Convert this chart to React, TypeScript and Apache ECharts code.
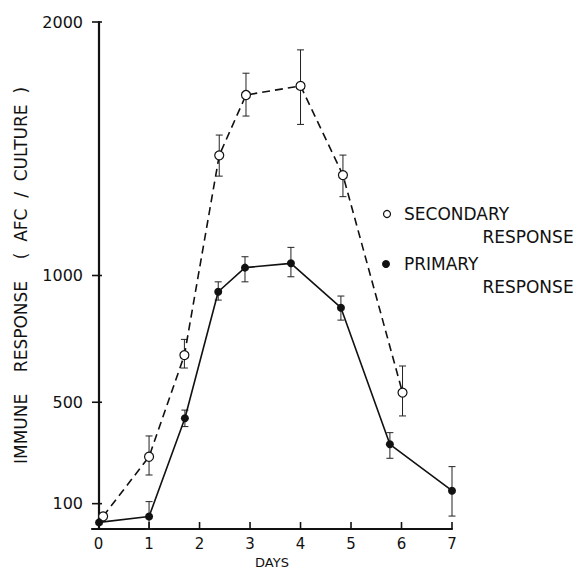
import React, { useEffect, useRef } from "react";
import * as echarts from "echarts";

const dayTicks = [0, 1, 2, 3, 4, 5, 6, 7];
const dayTickMarks = [1, 2, 3, 4, 5, 6, 7];
const responseTicks = [100, 500, 1000, 2000];

const secondaryDays = [0.09, 1.0, 1.7, 2.39, 2.92, 4.0, 4.84, 6.02];
const secondaryMean = [50, 285, 686, 1474, 1712, 1748, 1396, 538];
const secondaryHigh = [50, 367, 748, 1554, 1798, 1890, 1475, 643];
const secondaryLow = [50, 213, 635, 1392, 1629, 1596, 1311, 446];

const primaryDays = [0.01, 1.0, 1.71, 2.37, 2.9, 3.81, 4.8, 5.77, 7.0];
const primaryMean = [26, 49, 437, 936, 1031, 1048, 873, 334, 151];
const primaryHigh = [26, 108, 469, 975, 1074, 1111, 919, 380, 246];
const primaryLow = [26, 0, 404, 903, 975, 995, 824, 279, 51];

const INK = "#111";
const FONT = "DejaVu Sans";
const X_MIN = -0.13;

function errorBars(days: number[], low: number[], high: number[]) {
  return days.map((d, i) => [d, low[i], high[i]]);
}

export default function App() {
  const ref = useRef<HTMLDivElement>(null);
  useEffect(() => {
    if (!ref.current) return;
    const chart = echarts.init(ref.current, null, { renderer: "svg" });
    const renderErr = (params: any, api: any) => {
      const x = api.value(0);
      const lo = api.value(1);
      const hi = api.value(2);
      if (hi - lo < 1) return { type: "group", children: [] };
      const pLo = api.coord([x, lo]);
      const pHi = api.coord([x, hi]);
      const w = 3.5;
      const style = { stroke: "#222", lineWidth: 1 };
      return {
        type: "group",
        children: [
          { type: "line", shape: { x1: pLo[0], y1: pLo[1], x2: pHi[0], y2: pHi[1] }, style },
          { type: "line", shape: { x1: pHi[0] - w, y1: pHi[1], x2: pHi[0] + w, y2: pHi[1] }, style },
          { type: "line", shape: { x1: pLo[0] - w, y1: pLo[1], x2: pLo[0] + w, y2: pLo[1] }, style },
        ],
      };
    };
    const tickData = [
      ...dayTickMarks.map((d) => [0, d, 0]),
      ...responseTicks.map((v) => [1, X_MIN, v]),
    ];
    const renderTick = (params: any, api: any) => {
      const kind = api.value(0);
      const p = api.coord([api.value(1), api.value(2)]);
      const style = { stroke: INK, lineWidth: 1.6 };
      if (kind === 0) {
        return { type: "line", shape: { x1: p[0], y1: p[1], x2: p[0], y2: p[1] - 7 }, style };
      }
      return { type: "line", shape: { x1: p[0], y1: p[1], x2: p[0] + 10, y2: p[1] }, style };
    };
    chart.setOption({
      animation: false,
      backgroundColor: "#fff",
      grid: { left: 92, right: 125, top: 22, bottom: 40, outerBoundsMode: "none", containLabel: false },
      xAxis: {
        type: "value",
        min: X_MIN,
        max: 7,
        name: "DAYS",
        nameLocation: "middle",
        nameGap: 18,
        nameTextStyle: { color: INK, fontFamily: FONT, fontSize: 13 },
        axisLine: { show: true, lineStyle: { color: INK, width: 2.2 } },
        axisTick: { show: false },
        axisLabel: { customValues: dayTicks, color: INK, fontFamily: FONT, fontSize: 15, margin: 7, formatter: (v: number) => String(v) },
        splitLine: { show: false },
      },
      yAxis: {
        type: "value",
        min: 0,
        max: 2000,
        name: "IMMUNE    RESPONSE    (  AFC  /  CULTURE  )",
        nameLocation: "middle",
        nameGap: 63,
        nameRotate: 90,
        nameTextStyle: { color: INK, fontFamily: FONT, fontSize: 17 },
        axisLine: { show: true, lineStyle: { color: INK, width: 2.2 } },
        axisTick: { show: false },
        axisLabel: { customValues: responseTicks, color: INK, fontFamily: FONT, fontSize: 16, margin: 9, formatter: (v: number) => String(v) },
        splitLine: { show: false },
      },
      series: [
        {
          type: "custom",
          name: "ticks",
          renderItem: renderTick,
          data: tickData,
          clip: false,
          silent: true,
          z: 5,
        },
        {
          type: "custom",
          name: "secErr",
          renderItem: renderErr,
          data: errorBars(secondaryDays, secondaryLow, secondaryHigh),
          z: 1,
        },
        {
          type: "custom",
          name: "priErr",
          renderItem: renderErr,
          data: errorBars(primaryDays, primaryLow, primaryHigh),
          z: 1,
        },
        {
          type: "line",
          name: "SECONDARY RESPONSE",
          data: secondaryDays.map((d, i) => [d, secondaryMean[i]]),
          symbol: "circle",
          symbolSize: 9,
          showAllSymbol: true,
          lineStyle: { color: INK, width: 1.6, type: [8, 5] },
          itemStyle: { color: "#fff", borderColor: INK, borderWidth: 1.2 },
          z: 3,
        },
        {
          type: "line",
          name: "PRIMARY RESPONSE",
          data: primaryDays.map((d, i) => [d, primaryMean[i]]),
          symbol: "circle",
          symbolSize: 8,
          showAllSymbol: true,
          lineStyle: { color: INK, width: 1.6 },
          itemStyle: { color: INK, borderColor: INK, borderWidth: 0 },
          z: 3,
        },
      ],
      graphic: [
        { type: "circle", shape: { cx: 387, cy: 214, r: 3.5 }, style: { fill: "#fff", stroke: INK, lineWidth: 1.2 } },
        { type: "text", x: 404, y: 214, style: { text: "SECONDARY", fill: INK, font: `17px "${FONT}"`, align: "left", verticalAlign: "middle" } },
        { type: "text", x: 528, y: 237, style: { text: "RESPONSE", fill: INK, font: `17px "${FONT}"`, align: "center", verticalAlign: "middle" } },
        { type: "circle", shape: { cx: 386, cy: 264, r: 4 }, style: { fill: INK, stroke: INK, lineWidth: 0 } },
        { type: "text", x: 404, y: 264, style: { text: "PRIMARY", fill: INK, font: `17px "${FONT}"`, align: "left", verticalAlign: "middle" } },
        { type: "text", x: 528, y: 287, style: { text: "RESPONSE", fill: INK, font: `17px "${FONT}"`, align: "center", verticalAlign: "middle" } },
      ],
    });
    return () => chart.dispose();
  }, []);
  return <div ref={ref} style={{ position: "fixed", left: 0, top: 0, width: 577, height: 569 }} />;
}
